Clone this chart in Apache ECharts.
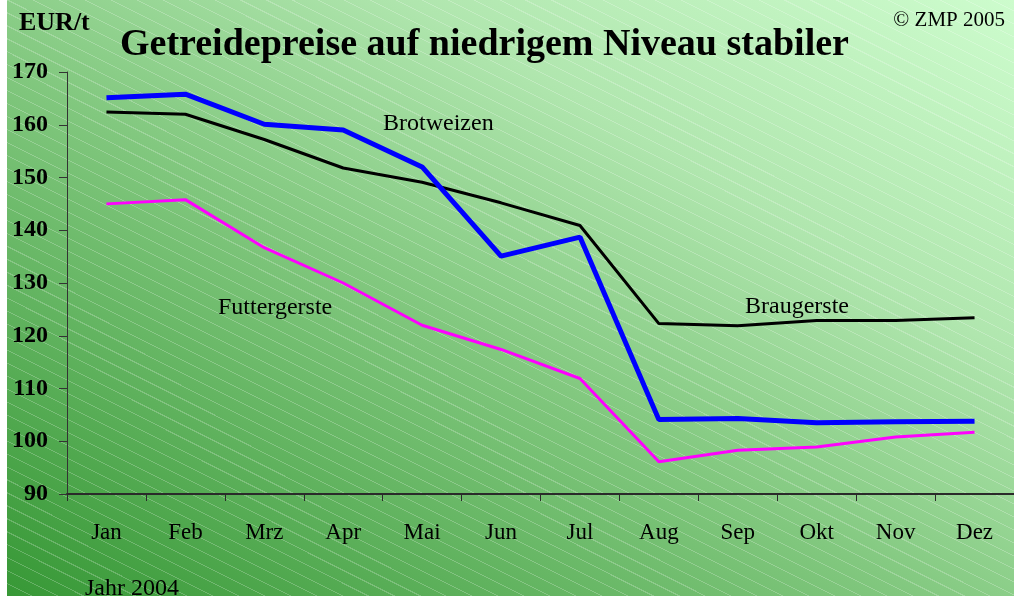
<!DOCTYPE html>
<html>
<head>
<meta charset="utf-8">
<script src="https://cdn.jsdelivr.net/npm/echarts@6/dist/echarts.min.js"></script>
<style>
  html, body { margin: 0; padding: 0; background: #fff; }
  #wrap { position: relative; width: 1014px; height: 596px; overflow: hidden; }
  #bg {
    position: absolute; left: 7px; top: 0; right: 0; bottom: 0;
    background:
      repeating-linear-gradient(26.6deg, rgba(255,255,255,0) 0px, rgba(255,255,255,0) 10.6px, rgba(255,255,255,0.22) 10.6px, rgba(255,255,255,0.22) 11.6px),
      linear-gradient(to top right, #379836 0%, #82c87f 45%, #b0e6ae 70%, #cdfccd 100%);
  }
  #chart { position: absolute; left: 0; top: 0; width: 1014px; height: 596px; }
</style>
</head>
<body>
<div id="wrap">
  <div id="bg"></div>
  <div id="chart"></div>
</div>
<script>
// monthly prices 2004, EUR/t
var months = ['Jan', 'Feb', 'Mrz', 'Apr', 'Mai', 'Jun', 'Jul', 'Aug', 'Sep', 'Okt', 'Nov', 'Dez'];
var brotweizen = [165.1, 165.8, 160.1, 159.0, 152.0, 135.1, 138.7, 104.1, 104.3, 103.5, 103.7, 103.8];
var braugerste = [162.4, 162.0, 157.2, 151.8, 149.1, 145.2, 140.9, 122.3, 121.9, 122.9, 122.9, 123.4];
var futtergerste = [145.0, 145.8, 136.7, 130.0, 122.0, 117.4, 111.9, 96.1, 98.3, 98.9, 100.8, 101.7];

var serif = '"Liberation Serif", "Times New Roman", serif';

var myChart = echarts.init(document.getElementById('chart'), null, { renderer: 'canvas' });

myChart.setOption({
    backgroundColor: 'transparent',
    animation: false,
    grid: { left: 67, top: 72, width: 952, height: 422 },
    xAxis: {
        type: 'category',
        data: months,
        boundaryGap: true,
        axisLine: { lineStyle: { color: '#2a2a2a', width: 2 } },
        axisTick: { show: true, length: 7, lineStyle: { color: '#2a2a2a' } },
        axisLabel: { color: '#000', fontFamily: serif, fontSize: 23, margin: 27 },
        splitLine: { show: false }
    },
    yAxis: {
        type: 'value',
        min: 90,
        max: 170,
        interval: 10,
        axisLine: { show: true, lineStyle: { color: '#333', width: 1 } },
        axisTick: { show: true, length: 8, lineStyle: { color: '#333' } },
        axisLabel: { color: '#000', fontFamily: serif, fontWeight: 'bold', fontSize: 24, margin: 19 },
        splitLine: { show: false }
    },
    series: [
        {
            name: 'Futtergerste', type: 'line', data: futtergerste,
            symbol: 'none', lineStyle: { color: '#ff00ff', width: 3 }
        },
        {
            name: 'Braugerste', type: 'line', data: braugerste,
            symbol: 'none', lineStyle: { color: '#000', width: 3 }
        },
        {
            name: 'Brotweizen', type: 'line', data: brotweizen,
            symbol: 'none', lineStyle: { color: '#0000ff', width: 5 }
        }
    ],
    graphic: [
        { type: 'text', left: 120, top: 26, style: { text: 'Getreidepreise auf niedrigem Niveau stabiler', font: 'bold 38px ' + serif, fill: '#000' } },
        { type: 'text', left: 19, top: 10, style: { text: 'EUR/t', font: 'bold 26px ' + serif, fill: '#000' } },
        { type: 'text', right: 9, top: 10, style: { text: '\u00a9 ZMP 2005', font: '21px ' + serif, fill: '#000' } },
        { type: 'text', left: 383, top: 112, style: { text: 'Brotweizen', font: '24px ' + serif, fill: '#000' } },
        { type: 'text', left: 218, top: 296, style: { text: 'Futtergerste', font: '24px ' + serif, fill: '#000' } },
        { type: 'text', left: 745, top: 295, style: { text: 'Braugerste', font: '24px ' + serif, fill: '#000' } },
        { type: 'text', left: 85, top: 577, style: { text: 'Jahr 2004', font: '24px ' + serif, fill: '#000' } }
    ]
});
</script>
</body>
</html>
